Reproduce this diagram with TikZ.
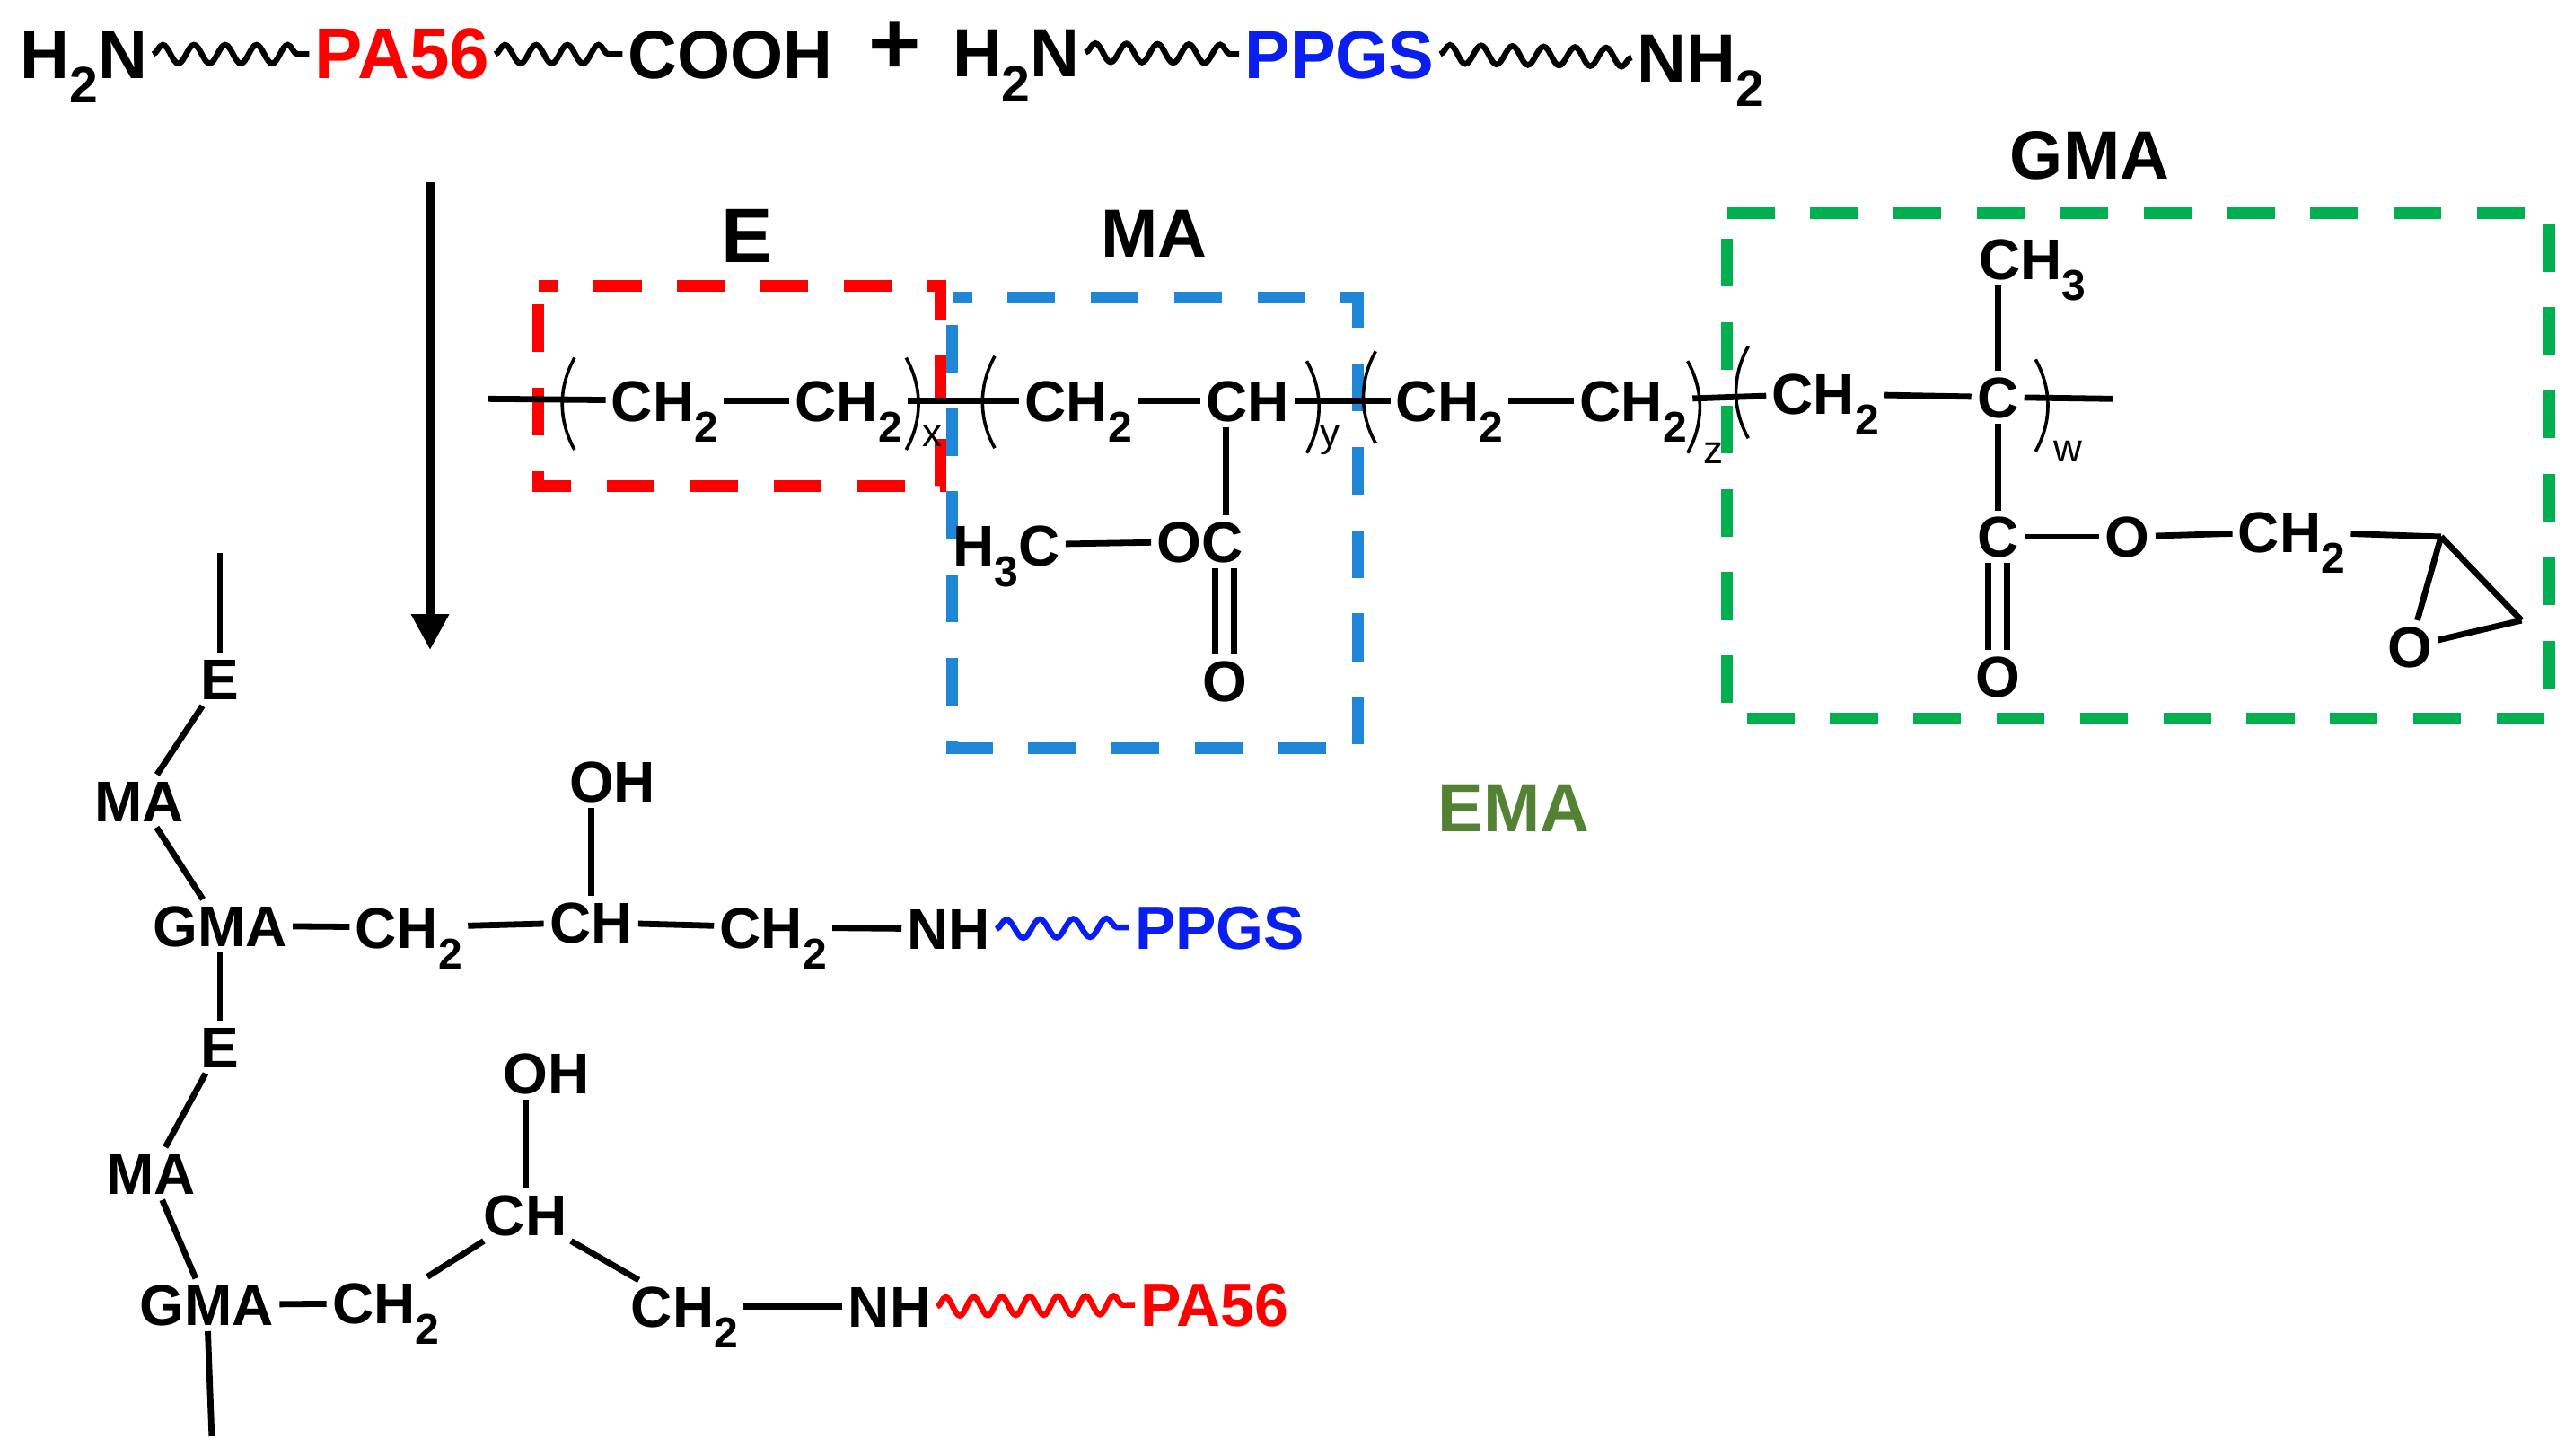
\documentclass[tikz,border=0pt]{standalone}
\usepackage{fontspec}
\usepackage{graphicx}
\setmainfont{Liberation Sans}
\usetikzlibrary{arrows.meta,decorations.pathmorphing}
\definecolor{boxblue}{HTML}{1F87D6}
\definecolor{boxgreen}{HTML}{00B050}
\definecolor{emagreen}{HTML}{548235}
\definecolor{ppgsblue}{HTML}{0A1EF0}
\newcommand{\chsub}[1]{\smash{\raisebox{-0.36em}{\scalebox{0.75}{#1}}}}
\tikzset{
  x=0.4571pt,y=-0.4571pt,
  chem/.style={inner sep=0pt,outer sep=1.6pt,text height=11.5pt,text depth=0pt,font=\fontsize{16}{18}\selectfont\bfseries},
  big/.style={inner sep=0pt,outer sep=1.6pt,text height=13.6pt,text depth=0pt,font=\fontsize{19}{21}\selectfont\bfseries},
  lowlab/.style={inner sep=0pt,outer sep=1.6pt,text height=12pt,text depth=0pt,font=\fontsize{17}{19}\selectfont\bfseries},
  idx/.style={inner sep=0pt,font=\fontsize{11}{12}\selectfont},
  bond/.style={line width=1.7pt,black},
  paren/.style={line width=0.9pt,black},
  wave/.style={line width=1.6pt,decorate,decoration={snake,segment length=#1,amplitude=2.6pt}},
  wave/.default=8.7pt,
  dbox/.style={line width=3.2pt,dash pattern=on 13.3pt off 9.9pt},
}
\begin{document}
\begin{tikzpicture}
\useasboundingbox (0,0) rectangle (1568,887);
% dashed boxes
\draw[dbox,red,dash phase=7.8pt] (328,174)--(573,174)--(573,296)--(328,296)--cycle;
\draw[dbox,boxblue,dash phase=7.8pt] (580,181)--(827,181)--(827,456)--(580,456)--cycle;
\draw[dbox,boxgreen] (1052,130)--(1553,130)--(1553,438)--(1052,438)--cycle;
% top row
\node[big] (t1) at (51,33) {H\chsub{2}N};
\node[big,red,font=\fontsize{20}{22}\selectfont\bfseries] (t2) at (245,33) {PA56};
\node[big] (t3) at (445,33) {COOH};
\node[inner sep=0pt,font=\fontsize{25}{25}\selectfont\bfseries] (plus) at (545,29) {+};
\node[big] (t4) at (619,32) {H\chsub{2}N};
\node[big,ppgsblue] (t5) at (816,33) {PPGS};
\node[big] (t6) at (1036,35) {NH\chsub{2}};
\draw[wave] (t1.east) -- (t2.west);
\draw[wave] (t2.east) -- (t3.west);
\draw[wave] (t4.east) -- (t5.west);
\draw[wave] (t5.east) -- (t6.west);
% reaction arrow
\coordinate (arA) at (262,111);
\coordinate (arB) at (262,396);
\draw[line width=2.4pt,-{Triangle[length=10pt,width=10pt]}] (arA) -- (arB);
% monomer labels
\node[inner sep=0pt,font=\fontsize{21.5}{22}\selectfont\bfseries] (lE) at (455,144) {E};
\node[big] (lMA) at (703,142) {MA};
\node[big] (lGMA) at (1273,94) {GMA};
\node[big,emagreen] (lEMA) at (922,492) {EMA};
% main chain
\coordinate (c0) at (297,243);
\coordinate (c9) at (1287,243);
\node[chem] (a1) at (405,244) {CH\chsub{2}};
\node[chem] (a2) at (517,244) {CH\chsub{2}};
\node[chem] (a3) at (657,244) {CH\chsub{2}};
\node[chem] (a4) at (760,244) {CH};
\node[chem] (a5) at (883,244) {CH\chsub{2}};
\node[chem] (a6) at (995,244) {CH\chsub{2}};
\node[chem] (a7) at (1112,240) {CH\chsub{2}};
\node[chem] (a8) at (1217,242) {C};
\draw[bond] (c0) -- (a1);
\draw[bond] (a1) -- (a2);
\draw[bond] (a2) -- (a3);
\draw[bond] (a3) -- (a4);
\draw[bond] (a4) -- (a5);
\draw[bond] (a5) -- (a6);
\draw[bond] (a6) -- (a7);
\draw[bond] (a7) -- (a8);
\draw[bond] (a8) -- (c9);
% parentheses
\foreach \x/\y in {350/246,606/245,838/242,1065/239}
  \draw[paren] (\x,\y-28) .. controls (\x-10,\y-10) and (\x-10,\y+10) .. (\x,\y+28);
\foreach \x/\y in {552/246,796/248,1028/248,1240/247}
  \draw[paren] (\x,\y-28) .. controls (\x+10,\y-10) and (\x+10,\y+10) .. (\x,\y+28);
\node[idx] (ix) at (568,266) {x};
\node[idx] (iy) at (810,268) {y};
\node[idx] (iz) at (1044,276) {z};
\node[idx] (iw) at (1260,275) {w};
% MA side group
\coordinate (mab) at (747,243);
\node[chem] (m1) at (613,332) {H\chsub{3}C};
\node[chem] (m2) at (731,330) {OC};
\node[chem] (m3) at (746,415) {O};
\draw[bond] (m1) -- (m2);
\draw[bond] (mab |- a4.south) -- (mab |- m2.north);
\draw[bond,transform canvas={xshift=-2.6pt}] (m3.north |- m2.south) -- (m3.north);
\draw[bond,transform canvas={xshift=2.6pt}] (m3.north |- m2.south) -- (m3.north);
% GMA side group
\node[chem] (g1) at (1238,158) {CH\chsub{3}};
\node[chem] (g2) at (1217,327) {C};
\node[chem] (g3) at (1296,327) {O};
\node[chem] (g4) at (1396,324) {CH\chsub{2}};
\node[chem] (g5) at (1217,412) {O};
\node[chem] (g6) at (1468,394) {O};
\coordinate (r1) at (1487,327);
\coordinate (r2) at (1536,378);
\draw[bond] (a8.north) -- (a8.north |- g1.south);
\draw[bond] (a8) -- (g2);
\draw[bond] (g2) -- (g3);
\draw[bond] (g3) -- (g4);
\draw[bond] (g4) -- (r1);
\draw[bond] (r1) -- (r2);
\draw[bond] (r1) -- (g6);
\draw[bond] (r2) -- (g6);
\draw[bond,transform canvas={xshift=-2.6pt}] (g2) -- (g5);
\draw[bond,transform canvas={xshift=2.6pt}] (g2) -- (g5);
% upper grafted product
\coordinate (u0) at (134,337);
\node[chem] (u1) at (134,414) {E};
\node[chem] (u2) at (85,488) {MA};
\node[chem] (u3) at (134,564) {GMA};
\node[chem] (u4) at (249,565) {CH\chsub{2}};
\node[chem] (u5) at (360,562) {CH};
\node[chem] (u6) at (373,476) {OH};
\node[chem] (u7) at (471,565) {CH\chsub{2}};
\node[chem] (u8) at (578,566) {NH};
\node[lowlab,ppgsblue] (u9) at (743,565) {PPGS};
\coordinate (u5v) at (360,500);
\draw[bond] (u0) -- (u1);
\draw[bond] (u1) -- (u2);
\draw[bond] (u2) -- (u3);
\draw[bond] (u3) -- (u4);
\draw[bond] (u4) -- (u5);
\draw[bond] (u5) -- (u7);
\draw[bond] (u7) -- (u8);
\draw[bond] (u5.north) -- (u5v |- u6.south);
\draw[wave=9.3pt,ppgsblue] (u8.east) -- (u9.west);
% lower grafted product
\node[chem] (v1) at (134,638) {E};
\node[chem] (v2) at (92,715) {MA};
\node[chem] (v3) at (126,795) {GMA};
\node[chem] (v4) at (235,794) {CH\chsub{2}};
\node[chem] (v5) at (320,740) {CH};
\node[chem] (v6) at (333,654) {OH};
\node[chem] (v7) at (417,796) {CH\chsub{2}};
\node[chem] (v8) at (542,796) {NH};
\node[lowlab,red] (v9) at (740,795) {PA56};
\coordinate (v0) at (129,875);
\draw[bond] (u3) -- (v1);
\draw[bond] (v1) -- (v2);
\draw[bond] (v2) -- (v3);
\draw[bond] (v3) -- (v4);
\draw[bond] (v4) -- (v5);
\draw[bond] (v5) -- (v7);
\draw[bond] (v7) -- (v8);
\draw[bond] (v5.north) -- (v5.north |- v6.south);
\draw[bond] (v3) -- (v0);
\draw[wave=7.8pt,red] (v8.east) -- (v9.west);
\end{tikzpicture}
\end{document}
